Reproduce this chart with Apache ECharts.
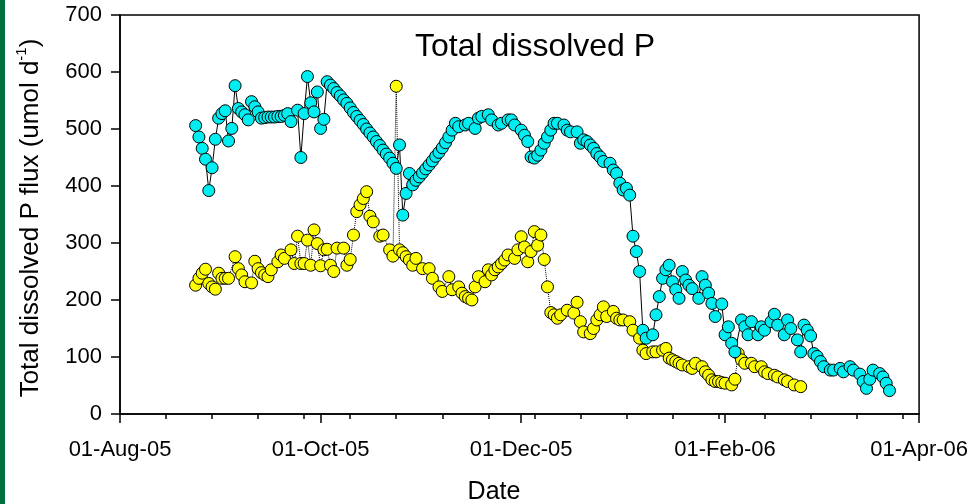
<!DOCTYPE html>
<html>
<head>
<meta charset="utf-8">
<script src="https://cdn.jsdelivr.net/npm/echarts@6.0.0/dist/echarts.min.js"></script>
<style>
html,body{margin:0;padding:0;background:#fff;}
#chart{width:971px;height:504px;}
</style>
</head>
<body>
<div id="chart"></div>
<script>
// ---- Data ----
const axisStart = '2005-08-01';
const axisEnd = '2006-04-01';
const tickDates = ['2005-08-01', '2005-10-01', '2005-12-01', '2006-02-01', '2006-04-01'];
const tickLabels = ['01-Aug-05', '01-Oct-05', '01-Dec-05', '01-Feb-06', '01-Apr-06'];
const yTicks = [0, 100, 200, 300, 400, 500, 600, 700];

const cyanDates = [
'2005-08-24','2005-08-25','2005-08-26','2005-08-27','2005-08-28','2005-08-29','2005-08-30','2005-08-31',
'2005-09-01','2005-09-02','2005-09-03','2005-09-04','2005-09-05','2005-09-06','2005-09-07','2005-09-08',
'2005-09-09','2005-09-10','2005-09-11','2005-09-12','2005-09-13','2005-09-14','2005-09-15','2005-09-16',
'2005-09-17','2005-09-18','2005-09-19','2005-09-20','2005-09-21','2005-09-22','2005-09-24','2005-09-25',
'2005-09-26','2005-09-27','2005-09-28','2005-09-29','2005-09-30','2005-10-01','2005-10-02','2005-10-03',
'2005-10-04','2005-10-05','2005-10-06','2005-10-07','2005-10-08','2005-10-09','2005-10-10','2005-10-11',
'2005-10-12','2005-10-13','2005-10-14','2005-10-15','2005-10-16','2005-10-17','2005-10-18','2005-10-19',
'2005-10-20','2005-10-21','2005-10-22','2005-10-23','2005-10-24','2005-10-25','2005-10-26','2005-10-27',
'2005-10-28','2005-10-29','2005-10-30','2005-10-31','2005-11-01','2005-11-02','2005-11-03','2005-11-04',
'2005-11-05','2005-11-06','2005-11-07','2005-11-08','2005-11-09','2005-11-10','2005-11-11','2005-11-12',
'2005-11-14','2005-11-15','2005-11-17','2005-11-18','2005-11-19','2005-11-21','2005-11-22','2005-11-24',
'2005-11-25','2005-11-27','2005-11-28','2005-11-29','2005-12-01','2005-12-02','2005-12-03','2005-12-04',
'2005-12-05','2005-12-06','2005-12-07','2005-12-08','2005-12-09','2005-12-10','2005-12-11','2005-12-12',
'2005-12-14','2005-12-15','2005-12-16','2005-12-18','2005-12-19','2005-12-20','2005-12-21','2005-12-22',
'2005-12-23','2005-12-24','2005-12-25','2005-12-26','2005-12-28','2005-12-29','2005-12-30','2005-12-31',
'2006-01-01','2006-01-02','2006-01-03','2006-01-04','2006-01-05','2006-01-06','2006-01-07','2006-01-08',
'2006-01-10','2006-01-11','2006-01-12','2006-01-13','2006-01-14','2006-01-15','2006-01-16','2006-01-17',
'2006-01-18','2006-01-19','2006-01-20','2006-01-21','2006-01-22','2006-01-24','2006-01-25','2006-01-26',
'2006-01-27','2006-01-28','2006-01-29','2006-01-31','2006-02-01','2006-02-02','2006-02-03','2006-02-04',
'2006-02-06','2006-02-07','2006-02-08','2006-02-09','2006-02-11','2006-02-12','2006-02-13','2006-02-15',
'2006-02-16','2006-02-17','2006-02-19','2006-02-20','2006-02-21','2006-02-23','2006-02-24','2006-02-25',
'2006-02-26','2006-02-27','2006-02-28','2006-03-01','2006-03-02','2006-03-03','2006-03-05','2006-03-06',
'2006-03-08','2006-03-09','2006-03-11','2006-03-12','2006-03-14','2006-03-15','2006-03-16','2006-03-17',
'2006-03-18','2006-03-20','2006-03-21','2006-03-22','2006-03-23'
];
const cyanValues = [
506,486,466,447,392,432,482,519,
527,532,479,501,576,536,530,525,
516,548,539,530,519,520,521,521,
521,522,522,524,527,513,533,450,
527,592,546,530,565,501,517,583,
577,571,564,558,551,545,537,529,
522,515,508,500,493,486,478,471,
463,456,449,440,431,472,349,387,
422,402,410,416,423,430,437,444,
452,459,467,476,486,498,510,504,
507,510,501,519,522,525,516,507,
510,516,516,507,498,489,478,451,
449,454,463,475,486,498,510,510,
507,498,495,495,475,481,478,472,
466,457,451,443,440,428,422,405,
393,396,384,312,285,250,147,133,
139,174,206,238,253,261,232,218,
203,250,235,226,220,203,241,226,
212,194,171,193,139,153,124,109,
165,153,139,162,139,153,147,162,
175,156,139,165,150,130,109,156,
147,137,106,101,92,83,77,77,
80,74,83,77,70,57,45,61,
77,71,65,54,41
];

const yellowDates = [
'2005-08-24','2005-08-25','2005-08-26','2005-08-27','2005-08-28','2005-08-29','2005-08-30','2005-08-31',
'2005-09-01','2005-09-02','2005-09-03','2005-09-05','2005-09-06','2005-09-07','2005-09-08','2005-09-10',
'2005-09-11','2005-09-12','2005-09-13','2005-09-14','2005-09-15','2005-09-16','2005-09-18','2005-09-19',
'2005-09-20','2005-09-22','2005-09-23','2005-09-24','2005-09-25','2005-09-26','2005-09-27','2005-09-28',
'2005-09-29','2005-09-30','2005-10-01','2005-10-02','2005-10-03','2005-10-04','2005-10-05','2005-10-06',
'2005-10-08','2005-10-09','2005-10-10','2005-10-11','2005-10-12','2005-10-13','2005-10-14','2005-10-15',
'2005-10-16','2005-10-17','2005-10-19','2005-10-20','2005-10-22','2005-10-23','2005-10-24','2005-10-25',
'2005-10-26','2005-10-27','2005-10-28','2005-10-29','2005-10-30','2005-11-01','2005-11-03','2005-11-04',
'2005-11-06','2005-11-07','2005-11-09','2005-11-10','2005-11-12','2005-11-13','2005-11-14','2005-11-15',
'2005-11-16','2005-11-17','2005-11-18','2005-11-20','2005-11-21','2005-11-22','2005-11-23','2005-11-24',
'2005-11-25','2005-11-26','2005-11-27','2005-11-29','2005-11-30','2005-12-01','2005-12-02','2005-12-03',
'2005-12-04','2005-12-05','2005-12-06','2005-12-07','2005-12-08','2005-12-09','2005-12-10','2005-12-11',
'2005-12-12','2005-12-13','2005-12-15','2005-12-17','2005-12-18','2005-12-19','2005-12-20','2005-12-22',
'2005-12-23','2005-12-24','2005-12-25','2005-12-26','2005-12-27','2005-12-29','2005-12-30','2005-12-31',
'2006-01-01','2006-01-03','2006-01-04','2006-01-06','2006-01-07','2006-01-08','2006-01-10','2006-01-11',
'2006-01-13','2006-01-14','2006-01-15','2006-01-16','2006-01-17','2006-01-18','2006-01-19','2006-01-21',
'2006-01-22','2006-01-23','2006-01-25','2006-01-26','2006-01-27','2006-01-28','2006-01-29','2006-01-30',
'2006-01-31','2006-02-01','2006-02-03','2006-02-04','2006-02-05','2006-02-06','2006-02-07','2006-02-09',
'2006-02-10','2006-02-12','2006-02-13','2006-02-14','2006-02-16','2006-02-17','2006-02-19','2006-02-20',
'2006-02-22','2006-02-24'
];
const yellowValues = [
226,238,247,254,229,223,219,247,
238,238,238,276,255,244,232,230,
268,255,248,244,241,253,267,279,
273,288,264,312,264,264,305,261,
323,299,260,288,289,261,250,291,
291,261,271,314,355,367,378,390,
347,337,312,314,288,277,575,288,
283,276,270,261,273,255,255,238,
223,215,241,218,223,212,206,203,
200,223,241,232,253,244,253,258,
264,270,279,273,288,311,293,267,
285,320,296,314,271,223,178,174,
168,174,182,177,196,162,144,141,
150,165,174,188,171,180,168,165,
165,162,147,133,112,106,109,109,
112,115,98,95,92,89,86,83,
80,89,83,74,68,60,57,57,
55,54,51,61,106,95,89,89,
83,83,74,71,68,65,60,57,
51,48
];

// ---- helpers ----
const FONT = '"Liberation Sans", Arial, sans-serif';
function dayOf(s) {
  const p = s.split('-').map(Number);
  const q = axisStart.split('-').map(Number);
  return (Date.UTC(p[0], p[1] - 1, p[2]) - Date.UTC(q[0], q[1] - 1, q[2])) / 86400000;
}
const tickDays = tickDates.map(dayOf);
const maxDay = dayOf(axisEnd);
const cyanData = cyanDates.map((d, i) => [dayOf(d), cyanValues[i]]);
const yellowData = yellowDates.map((d, i) => [dayOf(d), yellowValues[i]]);

const chart = echarts.init(document.getElementById('chart'), null, {renderer: 'canvas'});
const markerBase = {symbol: 'circle', symbolSize: 12, showAllSymbol: true};
chart.setOption({
  animation: false,
  backgroundColor: '#ffffff',
  grid: {left: 120, right: 51, top: 15, bottom: 90, show: true, borderColor: '#000', borderWidth: 1.5, backgroundColor: 'transparent'},
  graphic: [
    {type: 'rect', left: 0, top: 0, shape: {width: 5, height: 504}, style: {fill: '#00703C'}, z: 10},
    {type: 'text', x: 415, y: 47, style: {text: 'Total dissolved P', font: '32px ' + FONT, fill: '#000', verticalAlign: 'middle', align: 'left'}, z: 10},
    {type: 'text', x: 494, y: 492, style: {text: 'Date', font: '25px ' + FONT, fill: '#000', verticalAlign: 'middle', align: 'center'}, z: 10},
    {type: 'text', x: 29, y: 218, rotation: Math.PI / 2,
      style: {text: '{n|Total dissolved P flux (umol d}{s|-1}{n|)}', align: 'center', verticalAlign: 'middle', fill: '#000',
        rich: {n: {fontSize: 26, fontFamily: FONT, fill: '#000', verticalAlign: 'bottom', lineHeight: 30},
               s: {fontSize: 15, fontFamily: FONT, fill: '#000', verticalAlign: 'top', lineHeight: 30}}}, z: 10}
  ],
  xAxis: [
    {type: 'value', min: 0, max: maxDay, position: 'bottom',
      axisLine: {show: true, onZero: false, lineStyle: {color: '#000', width: 1.5}},
      axisTick: {show: true, inside: false, length: 9, lineStyle: {color: '#000', width: 1.5}, customValues: tickDays},
      axisLabel: {show: true, customValues: tickDays, margin: 25, fontSize: 22, fontFamily: FONT, color: '#000',
        formatter: v => { const i = tickDays.indexOf(v); return i >= 0 ? tickLabels[i] : ''; }},
      splitLine: {show: false}},
    {type: 'value', min: 0, max: maxDay, interval: 14, position: 'bottom',
      axisLine: {show: false},
      axisTick: {show: true, inside: false, length: 5, lineStyle: {color: '#000', width: 1.5}},
      axisLabel: {show: false}, splitLine: {show: false}}
  ],
  yAxis: {type: 'value', min: 0, max: 700, interval: 100,
    axisLine: {show: true, lineStyle: {color: '#000', width: 1.5}},
    axisTick: {show: true, inside: false, length: 9, lineStyle: {color: '#000', width: 1.5}},
    axisLabel: {margin: 18, fontSize: 22, fontFamily: FONT, color: '#000',
      formatter: v => (yTicks.indexOf(v) >= 0 ? String(v) : '')},
    splitLine: {show: false}},
  series: [
    Object.assign({type: 'line', name: 'yellow', xAxisIndex: 0, data: yellowData,
      itemStyle: {color: '#FFFF00', borderColor: '#000', borderWidth: 1},
      lineStyle: {color: '#000', width: 1, type: 'dotted'}}, markerBase),
    Object.assign({type: 'line', name: 'cyan', xAxisIndex: 0, data: cyanData,
      itemStyle: {color: '#00EEF2', borderColor: '#000', borderWidth: 1},
      lineStyle: {color: '#000', width: 1, type: 'solid'}}, markerBase)
  ]
});
</script>
</body>
</html>
